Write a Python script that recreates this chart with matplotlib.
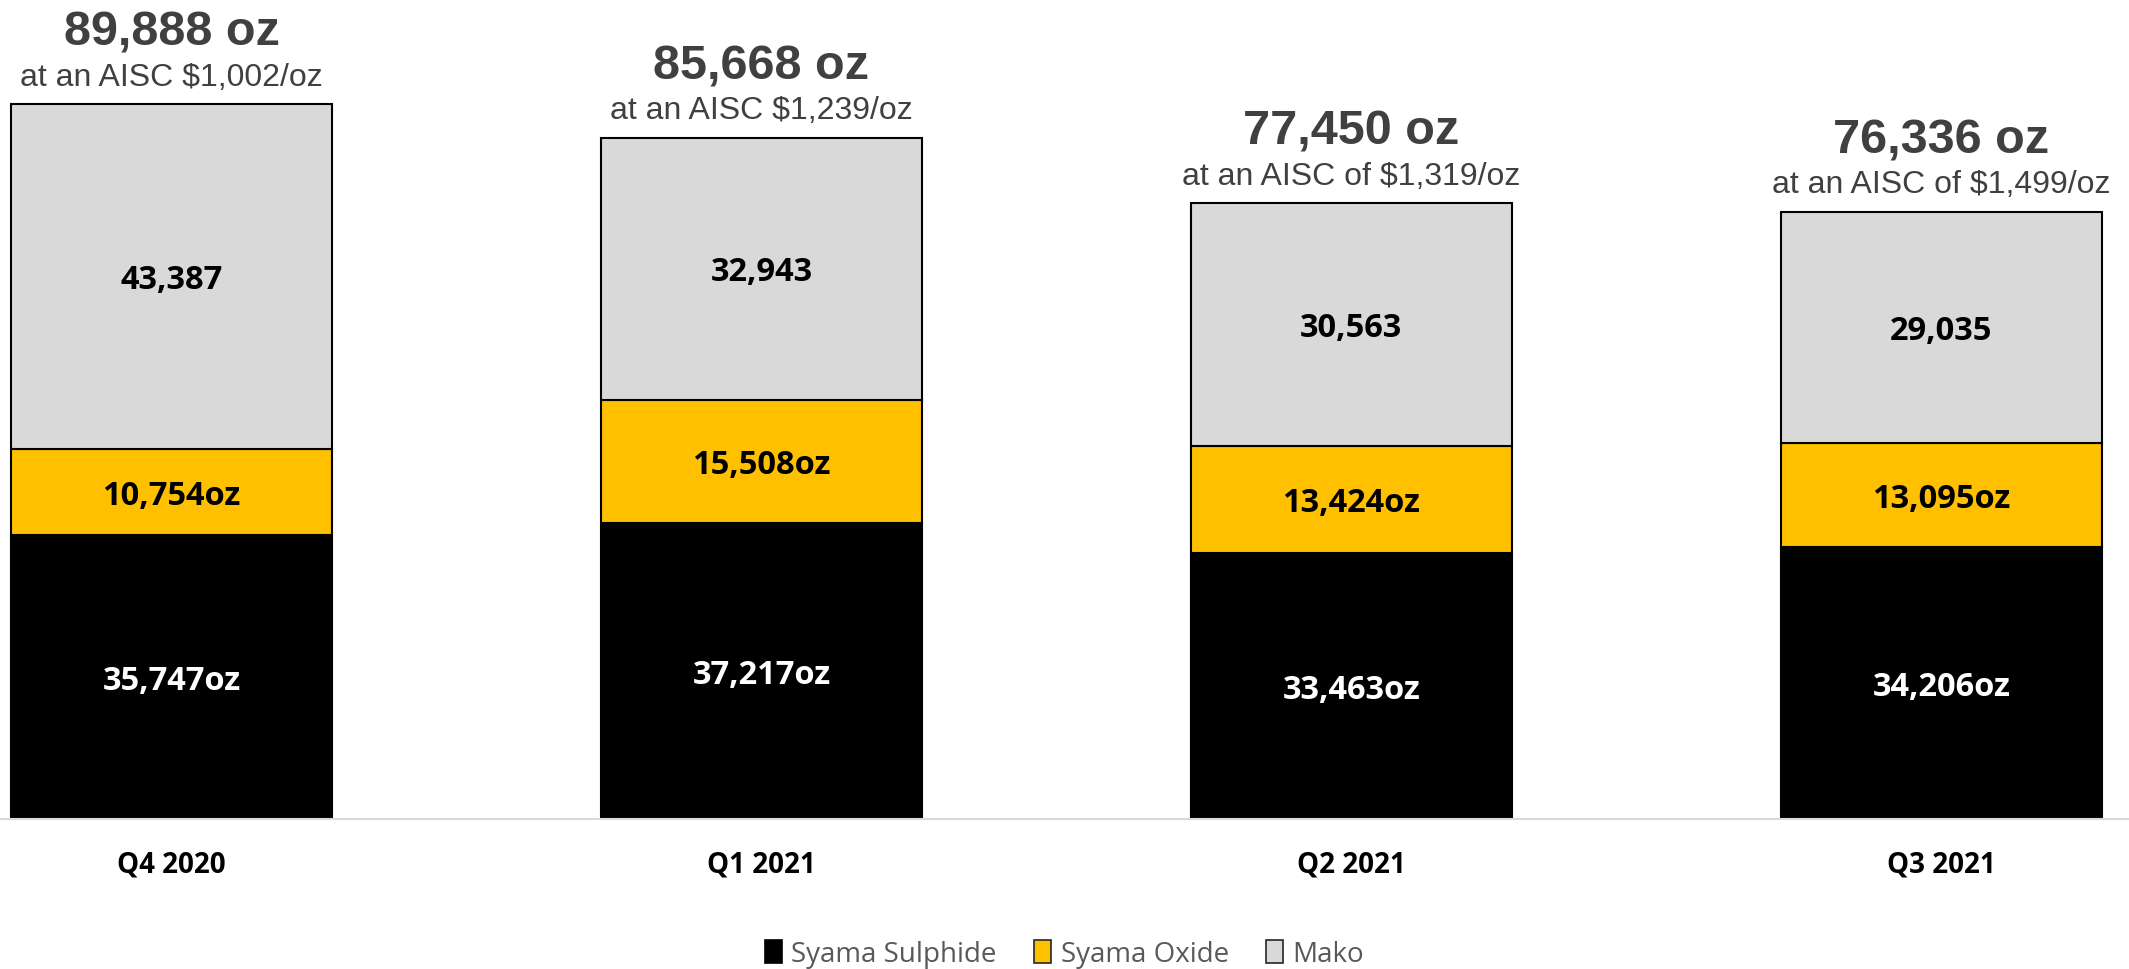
import matplotlib
matplotlib.use("Agg")
import matplotlib.pyplot as plt
from matplotlib.patches import Patch

quarters = ["Q4 2020", "Q1 2021", "Q2 2021", "Q3 2021"]
sulphide = [35747, 37217, 33463, 34206]
oxide = [10754, 15508, 13424, 13095]
mako = [43387, 32943, 30563, 29035]
totals = ["89,888 oz", "85,668 oz", "77,450 oz", "76,336 oz"]
aisc = ["at an AISC $1,002/oz", "at an AISC $1,239/oz",
        "at an AISC of $1,319/oz", "at an AISC of $1,499/oz"]

series = [("Syama Sulphide", sulphide, "#000000", "white", "{:,}oz"),
          ("Syama Oxide", oxide, "#FFC000", "black", "{:,}oz"),
          ("Mako", mako, "#D9D9D9", "black", "{:,}")]

fig = plt.figure(figsize=(21.29, 9.70), dpi=100)
ax = fig.add_axes([0, 150 / 970, 1, 820 / 970])

x = list(range(len(quarters)))
width = 0.544
bottoms = [0] * len(quarters)
handles = []
for name, values, color, txt_color, fmt in series:
    ax.bar(x, values, width, bottom=bottoms, color=color, edgecolor="black", linewidth=1.5, zorder=2)
    for i, v in enumerate(values):
        ax.annotate(fmt.format(v), (x[i], bottoms[i] + v / 2), xytext=(0, -8.5), textcoords="offset points",
                    ha="center", va="baseline", fontsize=23.5, fontweight="bold", color=txt_color,
                    family="Open Sans", zorder=3)
    bottoms = [b + v for b, v in zip(bottoms, values)]
    handles.append(Patch(facecolor=color, edgecolor="#262626" if color != "#000000" else "black",
                         linewidth=1.2, label=name))

for i, top in enumerate(bottoms):
    ax.annotate(totals[i], (x[i], top), xytext=(0, 42.5), textcoords="offset points",
                ha="center", va="baseline", fontsize=35, fontweight="bold", color="#404040",
                family="Liberation Sans")
    ax.annotate(aisc[i], (x[i], top), xytext=(0, 14), textcoords="offset points",
                ha="center", va="baseline", fontsize=23, color="#404040", family="Liberation Sans")

ax.set_xlim(-0.2907, 3.318)
ax.set_ylim(0, 103090)
ax.set_xticks(x)
ax.set_xticklabels(quarters, fontsize=20, fontweight="bold", family="Open Sans", color="black")
ax.tick_params(axis="x", length=0, pad=22)
ax.set_yticks([])
for side in ["left", "right", "top"]:
    ax.spines[side].set_visible(False)
ax.spines["bottom"].set_color("#D9D9D9")
ax.spines["bottom"].set_linewidth(1.5)

fig.legend(handles=handles, loc="center", bbox_to_anchor=(0.5, 1 - 955 / 970),
           ncol=3, frameon=False, prop={"family": "Open Sans", "size": 20},
           handlelength=0.6, handleheight=0.9, handletextpad=0.35, columnspacing=1.35,
           labelcolor="#595959")

fig.savefig("out.png", dpi=100)
